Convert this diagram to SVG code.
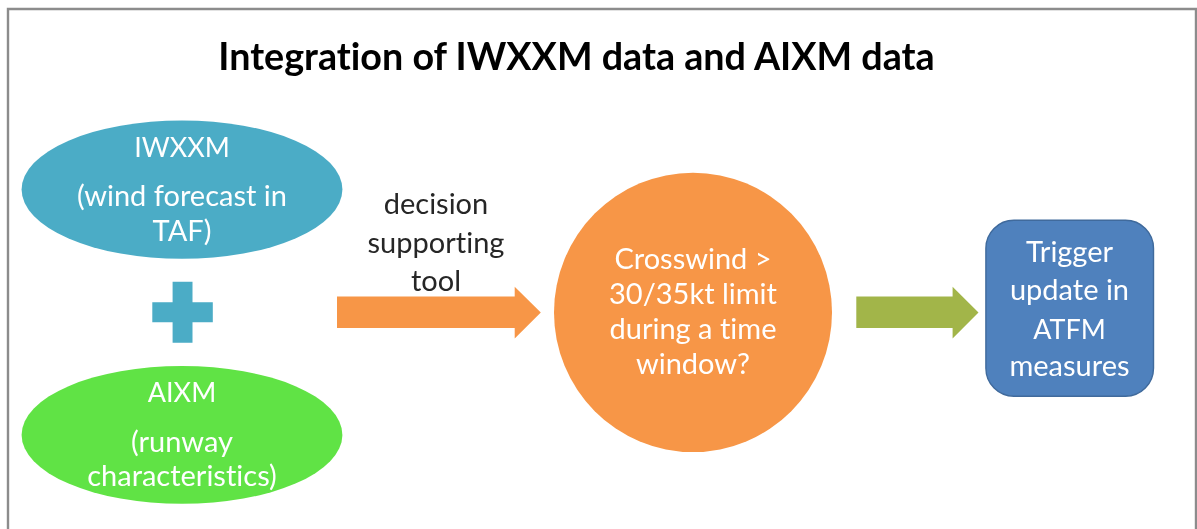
<svg xmlns="http://www.w3.org/2000/svg" width="1197" height="529" viewBox="0 0 1197 529">
<style>
text{font-family:Lato,"Liberation Sans",sans-serif;text-anchor:middle;font-variant-ligatures:none}
.w{fill:#fff;font-size:29px}
.c{font-size:27px}
.d{fill:#262626;font-size:29px}
.t{fill:#000;font-size:37.7px;font-weight:700}
</style>
<defs><filter id="soft" x="-5%" y="-5%" width="110%" height="110%"><feGaussianBlur stdDeviation="0.65"/></filter></defs>
<rect width="1197" height="529" fill="#fff"/>
<g filter="url(#soft)">
<path id="frame" d="M8 529V9H1196V529" fill="none" stroke="#8c8c8c" stroke-width="2.4"/>
<g id="title"><text class="t" x="576.5" y="70">Integration of IWXXM data and AIXM data</text></g>
<g id="connectors">
<path id="arrow1" d="M337 296.6H514.7V286.8L540.8 312.6L514.7 338.4V328H337Z" fill="#f79646"/>
<path id="arrow2" d="M856.3 296.6H952.6V286.8L978.5 312.6L952.6 338.4V328H856.3Z" fill="#a2b54a"/>
<text class="d" x="436" y="214">decision</text>
<text class="d" x="436" y="253">supporting</text>
<text class="d" x="436" y="291">tool</text>
</g>
<g id="iwxxm"><ellipse cx="182" cy="189.6" rx="160.4" ry="69.2" fill="#4bacc6"/>
<text class="w c" x="182" y="157">IWXXM</text>
<text class="w" x="182" y="206">(wind forecast in</text>
<text class="w" x="182" y="241">TAF)</text></g>
<g id="plus"><path d="M172.6 281.7H192.5V302.3H212.8V322.2H192.5V342.8H172.6V322.2H152.3V302.3H172.6Z" fill="#4bacc6"/></g>
<g id="aixm"><ellipse cx="182" cy="434.9" rx="160.4" ry="68.9" fill="#61e345"/>
<text class="w c" x="182" y="402">AIXM</text>
<text class="w" x="182" y="452">(runway</text>
<text class="w" x="182" y="486">characteristics)</text></g>
<g id="crosswind"><ellipse cx="693" cy="312.4" rx="139" ry="139.7" fill="#f79646"/>
<text class="w" x="693" y="269">Crosswind &gt;</text>
<text class="w" x="693" y="304">30/35kt limit</text>
<text class="w" x="693" y="339">during a time</text>
<text class="w" x="693" y="374">window?</text></g>
<g id="trigger"><rect x="985.9" y="220.2" width="167.6" height="176" rx="28" fill="#4f81bd" stroke="#3f6a9c" stroke-width="1.4"/>
<text class="w" x="1069.5" y="262">Trigger</text>
<text class="w" x="1069.5" y="300">update in</text>
<text class="w c" x="1069.5" y="339">ATFM</text>
<text class="w" x="1069.5" y="376">measures</text></g>
</g>
</svg>
